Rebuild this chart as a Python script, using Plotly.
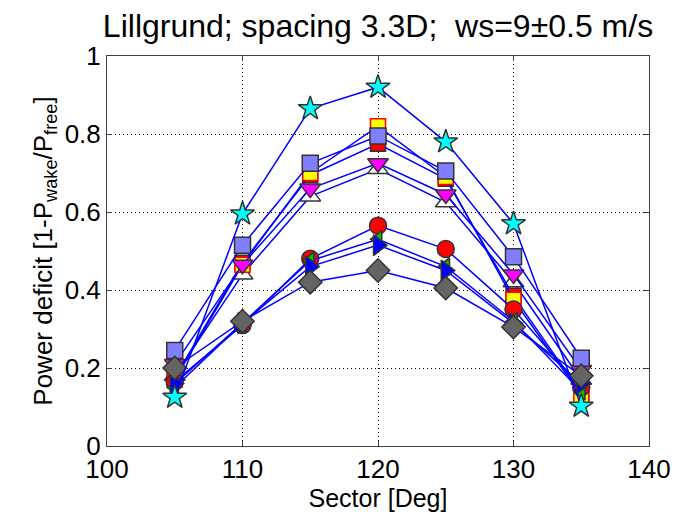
import plotly.graph_objects as go

sectors = [105, 110, 115, 120, 125, 130, 135]

tri_up_white     = [0.180, 0.440, 0.640, 0.710, 0.625, 0.420, 0.170]
sq_yellow        = [0.170, 0.465, 0.700, 0.820, 0.690, 0.375, 0.130]
sq_red_hidden    = [0.175, 0.470, 0.695, 0.775, 0.685, 0.385, 0.135]
tri_down_magenta = [0.210, 0.465, 0.660, 0.725, 0.645, 0.440, 0.195]
sq_purple        = [0.245, 0.515, 0.725, 0.795, 0.705, 0.485, 0.225]
circ_red         = [0.165, 0.310, 0.480, 0.565, 0.505, 0.350, 0.150]
tri_left_green   = [0.150, 0.315, 0.475, 0.530, 0.460, 0.320, 0.140]
tri_right_blue   = [0.160, 0.315, 0.460, 0.515, 0.450, 0.315, 0.160]
diamond_gray     = [0.200, 0.320, 0.420, 0.450, 0.405, 0.305, 0.180]
star_cyan        = [0.125, 0.595, 0.865, 0.920, 0.780, 0.570, 0.102]

x_ticks = [100, 110, 120, 130, 140]
x_ticklabels = ["100", "110", "120", "130", "140"]
y_ticks = [0, 0.2, 0.4, 0.6, 0.8, 1.0]
y_ticklabels = ["0", "0.2", "0.4", "0.6", "0.8", "1"]

series = [
    (tri_up_white, "triangle-up", "#FFFFFF", "#333333", 18),
    (sq_red_hidden, "square", "#FF0000", "#333333", 15),
    (sq_yellow, "square", "#FFFF00", "#FF0000", 15),
    (tri_down_magenta, "triangle-down", "#FF00FF", "#333333", 18),
    (sq_purple, "square", "#8080FF", "#333333", 16),
    (circ_red, "circle", "#FF0000", "#333333", 17),
    (tri_left_green, "triangle-left", "#00C000", "#333333", 15),
    (tri_right_blue, "triangle-right", "#0000FF", "#333333", 18),
    (diamond_gray, "diamond", "#646464", "#333333", 18),
    (star_cyan, "star", "#00FFFF", "#333333", 18),
]

fig = go.Figure()
for vals, sym, fill, edge, size in series:
    fig.add_trace(go.Scatter(
        x=sectors, y=vals, mode="lines+markers",
        line=dict(color="#0000FF", width=1.5),
        marker=dict(symbol=sym, color=fill, size=size,
                    line=dict(color=edge, width=1.5)),
        showlegend=False,
    ))

font = "Liberation Sans, Arial, sans-serif"
axis_common = dict(
    showline=True, linecolor="#404040", linewidth=1, mirror="ticks",
    ticks="inside", ticklen=5, tickcolor="#404040",
    showgrid=True, gridcolor="#000000", gridwidth=1, griddash="1px,3px",
    zeroline=False, tickfont=dict(family=font, size=26, color="#000000"),
)

fig.update_layout(
    width=683, height=516,
    margin=dict(l=107, r=26, t=56, b=70),
    paper_bgcolor="white", plot_bgcolor="white",
    title=dict(text="Lillgrund; spacing 3.3D;  ws=9\u00b10.5 m/s",
               x=0.5, xref="paper", xanchor="center",
               y=1 - 26 / 516, yref="container", yanchor="middle",
               font=dict(family=font, size=32, color="#000000")),
    xaxis=dict(range=[100, 140], tickvals=x_ticks, ticktext=x_ticklabels,
               title=dict(text="Sector [Deg]", standoff=2,
                          font=dict(family=font, size=25, color="#000000")),
               **axis_common),
    yaxis=dict(range=[0, 1], tickvals=y_ticks, ticktext=y_ticklabels,
               title=dict(text="Power deficit [1-P<sub>wake</sub>/P<sub>free</sub>]", standoff=4,
                          font=dict(family=font, size=26, color="#000000")),
               **axis_common),
)

fig.write_html("out.html")
